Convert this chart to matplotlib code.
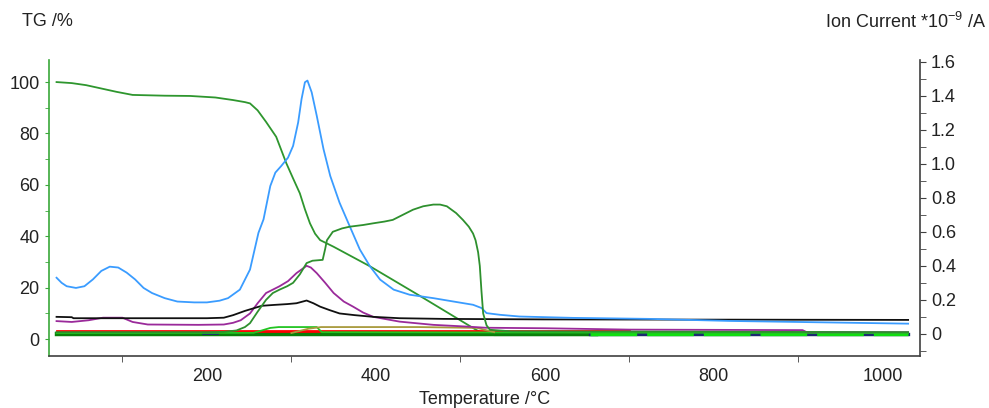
import matplotlib
matplotlib.use("Agg")
import matplotlib.pyplot as plt
from matplotlib.ticker import MultipleLocator

plt.rcParams["font.family"] = ["Liberation Sans", "DejaVu Sans"]
plt.rcParams["mathtext.fontset"] = "custom"
plt.rcParams["mathtext.rm"] = "Liberation Sans"

# TG curve (left axis, %)
tg_T = [22, 40, 57, 75, 93, 112, 150, 180, 210, 231, 245, 251, 260, 270, 282, 294,
        302, 310, 316, 322, 328, 334, 342, 350, 393, 450, 519, 530, 540, 1030]
tg_val = [100, 99.6, 98.8, 97.5, 96.2, 95, 94.7, 94.6, 94, 93, 92.2, 91.7, 89, 84.5, 78.7, 68.4,
          62.5, 56.7, 50.5, 45, 41, 38.5, 37.2, 35.9, 28.3, 17.2, 3.5, 1.8, 1.5, 1.5]

# ion current curves (right axis, *1e-9 A)
blue_T = [22, 28, 34, 45, 55, 65, 75, 85, 95, 105, 115, 125, 135, 150, 165, 185, 200, 215,
          225, 232, 239, 251, 261, 267, 275, 281, 288, 296, 302, 308, 312, 316, 319, 324,
          330, 338, 346, 357, 369, 381, 393, 405, 421, 440, 468, 492, 515, 525, 531, 547,
          570, 633, 724, 819, 965, 1030]
blue_val = [0.33, 0.30, 0.28, 0.27, 0.28, 0.32, 0.37, 0.395, 0.39, 0.36, 0.32, 0.27, 0.24,
            0.21, 0.19, 0.185, 0.185, 0.195, 0.21, 0.235, 0.26, 0.378, 0.594, 0.673, 0.869,
            0.948, 0.987, 1.036, 1.105, 1.243, 1.38, 1.479, 1.489, 1.42, 1.282, 1.086, 0.928,
            0.771, 0.633, 0.496, 0.397, 0.319, 0.26, 0.23, 0.21, 0.19, 0.171, 0.152, 0.122,
            0.112, 0.102, 0.094, 0.088, 0.076, 0.065, 0.06]

black_T = [22, 40, 42, 100, 200, 220, 231, 245, 255, 265, 279, 295, 306, 318, 326, 334,
           345, 357, 375, 397, 428, 480, 600, 1030]
black_val = [0.10, 0.098, 0.092, 0.092, 0.092, 0.095, 0.11, 0.135, 0.15, 0.165, 0.17, 0.175,
             0.18, 0.196, 0.18, 0.16, 0.14, 0.12, 0.11, 0.10, 0.092, 0.088, 0.085, 0.082]

purple_T = [22, 40, 60, 77, 100, 112, 130, 190, 220, 231, 240, 251, 260, 270, 286, 296, 306,
            318, 323, 330, 340, 350, 362, 373, 385, 397, 428, 468, 507, 530, 600, 700, 905,
            910, 1030]
purple_val = [0.075, 0.07, 0.08, 0.095, 0.095, 0.07, 0.055, 0.053, 0.055, 0.065, 0.08, 0.12,
              0.18, 0.24, 0.28, 0.31, 0.357, 0.40, 0.39, 0.357, 0.30, 0.24, 0.19, 0.16, 0.125,
              0.10, 0.072, 0.053, 0.043, 0.036, 0.033, 0.025, 0.022, 0.01, 0.01]

green_T = [22, 200, 220, 235, 245, 251, 260, 270, 278, 286, 295, 302, 310, 318, 325, 337,
           340, 342, 349, 360, 369, 385, 397, 410, 420, 432, 444, 456, 468, 476, 484, 495,
           503, 510, 515, 518, 521, 523, 525, 527, 531, 535, 560, 1030]
green_val = [0.01, 0.01, 0.012, 0.02, 0.04, 0.063, 0.13, 0.2, 0.24, 0.26, 0.28, 0.30, 0.35,
             0.416, 0.43, 0.435, 0.50, 0.55, 0.60, 0.62, 0.63, 0.64, 0.65, 0.66, 0.67, 0.70,
             0.73, 0.75, 0.76, 0.76, 0.75, 0.71, 0.67, 0.63, 0.59, 0.55, 0.48, 0.40, 0.25,
             0.12, 0.05, 0.024, 0.015, 0.01]

red_T = [22, 700]
red_val = [0.015, 0.015]

lime_T = [22, 255, 265, 275, 285, 330, 336, 1030]
lime_val = [0.005, 0.006, 0.02, 0.035, 0.04, 0.04, 0.01, 0.005]

olive_T = [300, 320, 335, 450, 520, 540]
olive_val = [0.005, 0.03, 0.04, 0.04, 0.035, 0.01]

dkgreen_T = [22, 660]
dkgreen_val = [0.002, 0.002]

navy_T = [653, 1030]
navy_val = [0.002, 0.002]
navy_bit_T = [195, 212]
navy_bit_val = [0.004, 0.004]

fig = plt.figure(figsize=(9.89, 4.08), dpi=100)
ax = fig.add_axes([0.050, 0.1275, 0.880, 0.7255])
ax2 = ax.twinx()

ax.plot(tg_T, tg_val, color="#2e962e", lw=1.3)

ax2.plot(dkgreen_T, dkgreen_val, color="#0a800a", lw=3.2)
ax2.plot(navy_T, navy_val, color="#1c2a70", lw=2.4)
ax2.plot(navy_T, navy_val, color="#10dd10", lw=2.4, dashes=(14, 3))
ax2.plot(navy_bit_T, navy_bit_val, color="#1c2a70", lw=2.0)
ax2.plot(red_T, red_val, color="#ff0000", lw=2.0)
ax2.plot(lime_T, lime_val, color="#22c422", lw=1.3)
ax2.plot(olive_T, olive_val, color="#a89a3c", lw=1.3)
ax2.plot(purple_T, purple_val, color="#9a2a9a", lw=1.3)
ax2.plot(black_T, black_val, color="#101010", lw=1.3)
ax2.plot(blue_T, blue_val, color="#3a9cff", lw=1.3)
ax2.plot(green_T, green_val, color="#2e902e", lw=1.3)

ax.set_xlim(13.6, 1043.8)
ax.set_ylim(-6.6, 108.6)
ax2.set_ylim(-0.13, 1.61)

ax.xaxis.set_major_locator(MultipleLocator(200))
ax.xaxis.set_minor_locator(MultipleLocator(100))
ax.yaxis.set_major_locator(MultipleLocator(20))
ax.yaxis.set_minor_locator(MultipleLocator(10))
ax2.yaxis.set_minor_locator(MultipleLocator(0.1))
ax2.set_yticks([0, 0.2, 0.4, 0.6, 0.8, 1.0, 1.2, 1.4, 1.6])
ax2.set_yticklabels(["0", "0.2", "0.4", "0.6", "0.8", "1.0", "1.2", "1.4", "1.6"])

for a in (ax, ax2):
    a.spines["top"].set_visible(False)
ax2.spines["left"].set_visible(False)
ax2.spines["bottom"].set_visible(False)
ax.spines["right"].set_visible(False)
ax.spines["left"].set_color("#3aa83a")
ax.spines["bottom"].set_color("#404040")
ax2.spines["right"].set_color("#404040")
for a in (ax, ax2):
    for s in a.spines.values():
        s.set_linewidth(1.2)

ax.tick_params(axis="x", which="major", length=0, pad=9, labelsize=13, labelcolor="#222222")
ax.tick_params(axis="x", which="minor", length=4, color="#404040")
ax.tick_params(axis="y", which="both", length=3, color="#3aa83a", labelsize=13,
               labelcolor="#222222", pad=4)
ax2.tick_params(axis="y", which="both", length=4, color="#404040", labelsize=13,
                labelcolor="#222222", pad=4)

fig.text(22 / 989, 1 - 22 / 408, "TG /%", fontsize=13, color="#222222", va="center", ha="left")
fig.text(986 / 989, 1 - 22 / 408, "Ion Current *10$^{-9}$ /A", fontsize=13, color="#222222",
         va="center", ha="right")
fig.text(485 / 989, 1 - 400 / 408, "Temperature /°C", fontsize=13, color="#222222",
         va="center", ha="center")

fig.savefig("out.png", dpi=100)
